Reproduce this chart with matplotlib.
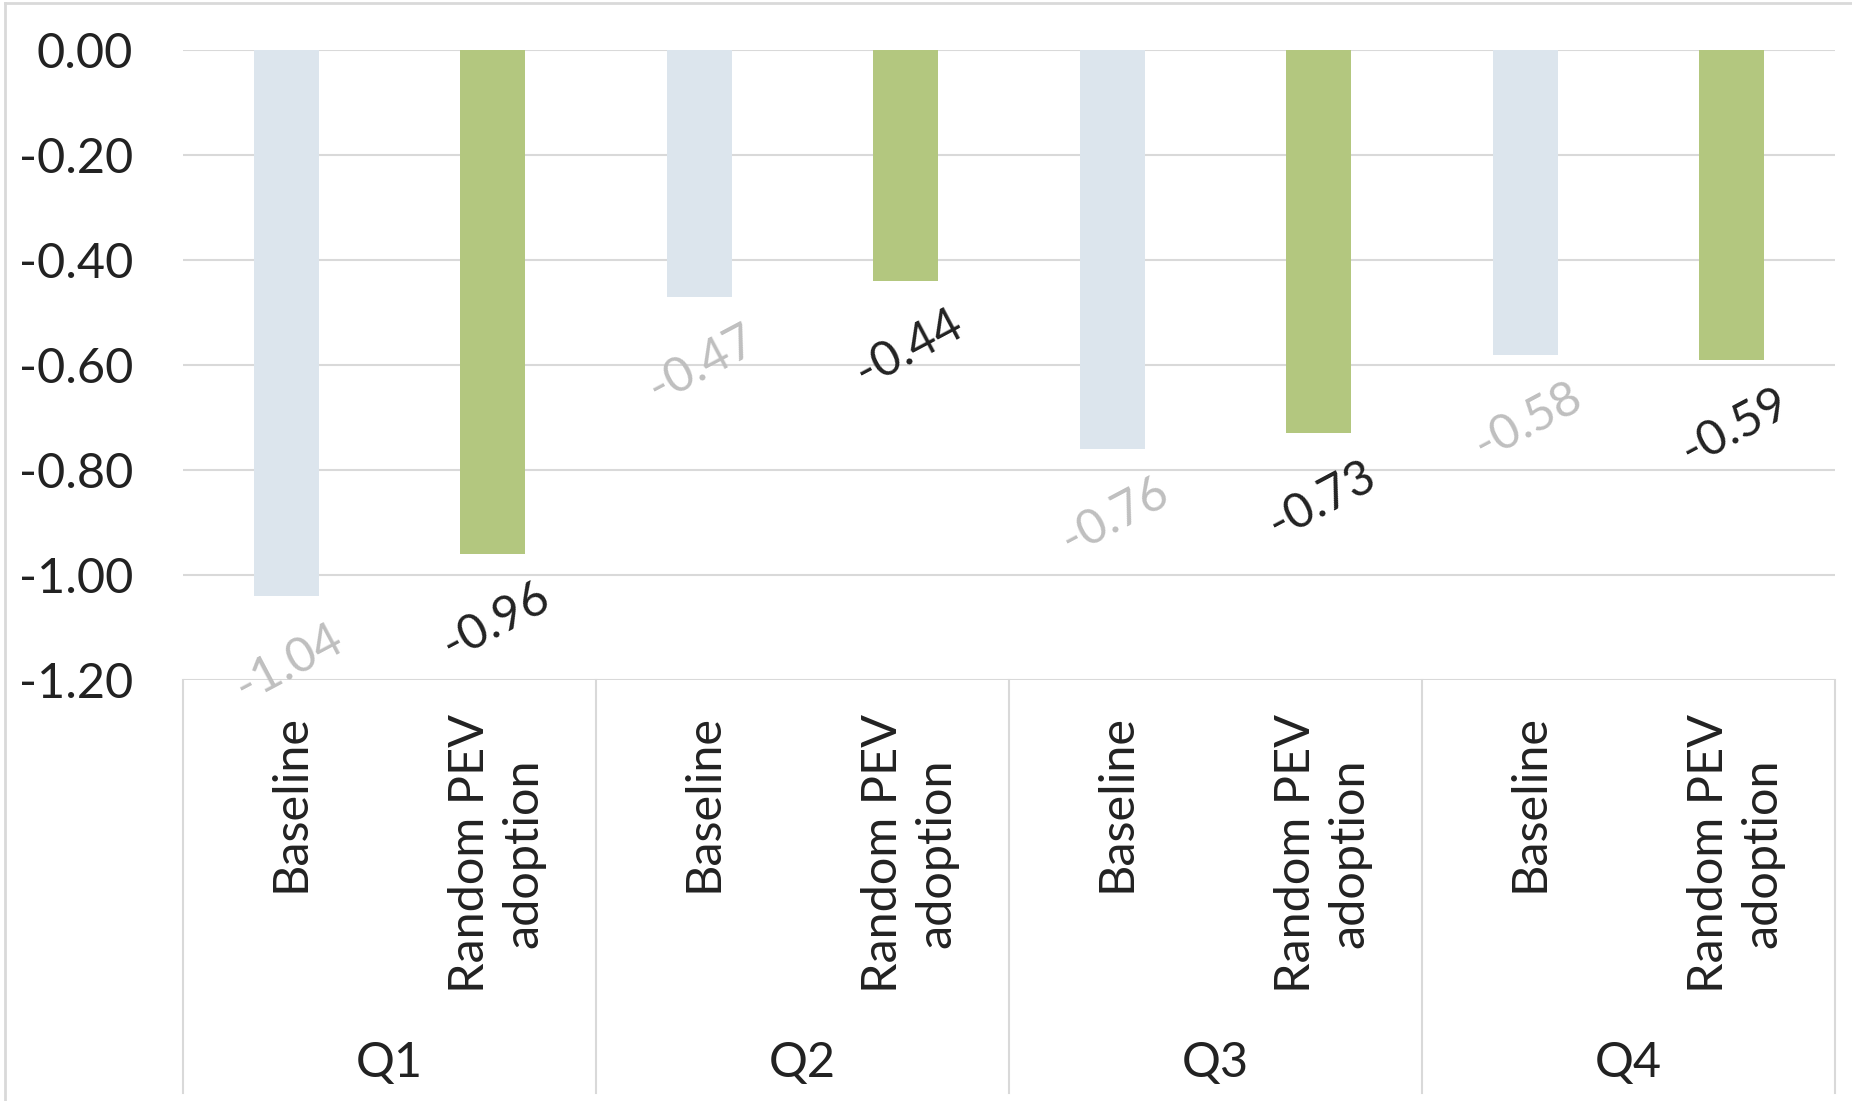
import matplotlib
matplotlib.use("Agg")
import matplotlib.pyplot as plt
from matplotlib.lines import Line2D
import matplotlib.transforms as mtransforms

quarters = ["Q1", "Q2", "Q3", "Q4"]
scenarios = ["Baseline", "Random PEV\nadoption"]
baseline = [-1.04, -0.47, -0.76, -0.58]
random_pev = [-0.96, -0.44, -0.73, -0.59]
y_ticks = [0.0, -0.2, -0.4, -0.6, -0.8, -1.0, -1.2]

plt.rcParams["font.family"] = ["Lato", "DejaVu Sans"]
plt.rcParams["axes.unicode_minus"] = False

bar_colors = ["#DCE5ED", "#B3C77F"]
label_colors = ["#BFBFBF", "#222222"]
grid_color = "#D9D9D9"
text_color = "#222222"
fs = 35

fig = plt.figure(figsize=(18.52, 11.01), dpi=100)
ax = fig.add_axes([183 / 1852, 1 - 680 / 1101, (1835 - 183) / 1852, 630 / 1101])

# one slot per bar, two slots per quarter
for qi, q in enumerate(quarters):
    for si, vals in enumerate([baseline, random_pev]):
        x = 2 * qi + si + 0.5
        v = vals[qi]
        ax.bar(x, v, width=0.315, color=bar_colors[si], zorder=2)
        ax.annotate(f"{v:.2f}", (x, v), xytext=(2, -48), textcoords="offset points",
                    ha="center", va="center", rotation=28, fontsize=fs,
                    color=label_colors[si])

ax.set_xlim(0, 2 * len(quarters))
ax.set_ylim(-1.2, 0)
ax.set_yticks(y_ticks)
ax.set_yticklabels([f"{t:.2f}" for t in y_ticks], fontsize=fs, color=text_color)
ax.tick_params(axis="y", length=0, pad=36)
ax.set_xticks([])
for side in ["top", "right", "left", "bottom"]:
    ax.spines[side].set_visible(False)
ax.grid(axis="y", color=grid_color, linewidth=1.5, zorder=0)
ax.set_axisbelow(True)

# multi-level category axis below the plot
trans = mtransforms.blended_transform_factory(ax.transData, ax.transAxes)
box_bottom = -(1093 - 680) / 630
for xs in range(0, 2 * len(quarters) + 1, 2):
    ax.add_line(Line2D([xs, xs], [0, box_bottom], transform=trans, color=grid_color,
                       linewidth=1.5, clip_on=False))
for qi, q in enumerate(quarters):
    for si, s in enumerate(scenarios):
        ax.text(2 * qi + si + 0.52, -(714 - 680) / 630, s, transform=trans,
                rotation=90, ha="center", va="top", multialignment="center",
                fontsize=fs, color=text_color, linespacing=1.27)
    ax.text(2 * qi + 1, -(1063 - 680) / 630, q, transform=trans,
            ha="center", va="center", fontsize=fs, color=text_color)

# light frame around the chart area
fig.add_artist(Line2D([5 / 1852, 5 / 1852], [0, 1 - 3 / 1101], transform=fig.transFigure,
                      color="#D9D9D9", linewidth=2))
fig.add_artist(Line2D([5 / 1852, 1], [1 - 3 / 1101, 1 - 3 / 1101], transform=fig.transFigure,
                      color="#D9D9D9", linewidth=2))

fig.savefig("out.png", dpi=100, facecolor="white")
